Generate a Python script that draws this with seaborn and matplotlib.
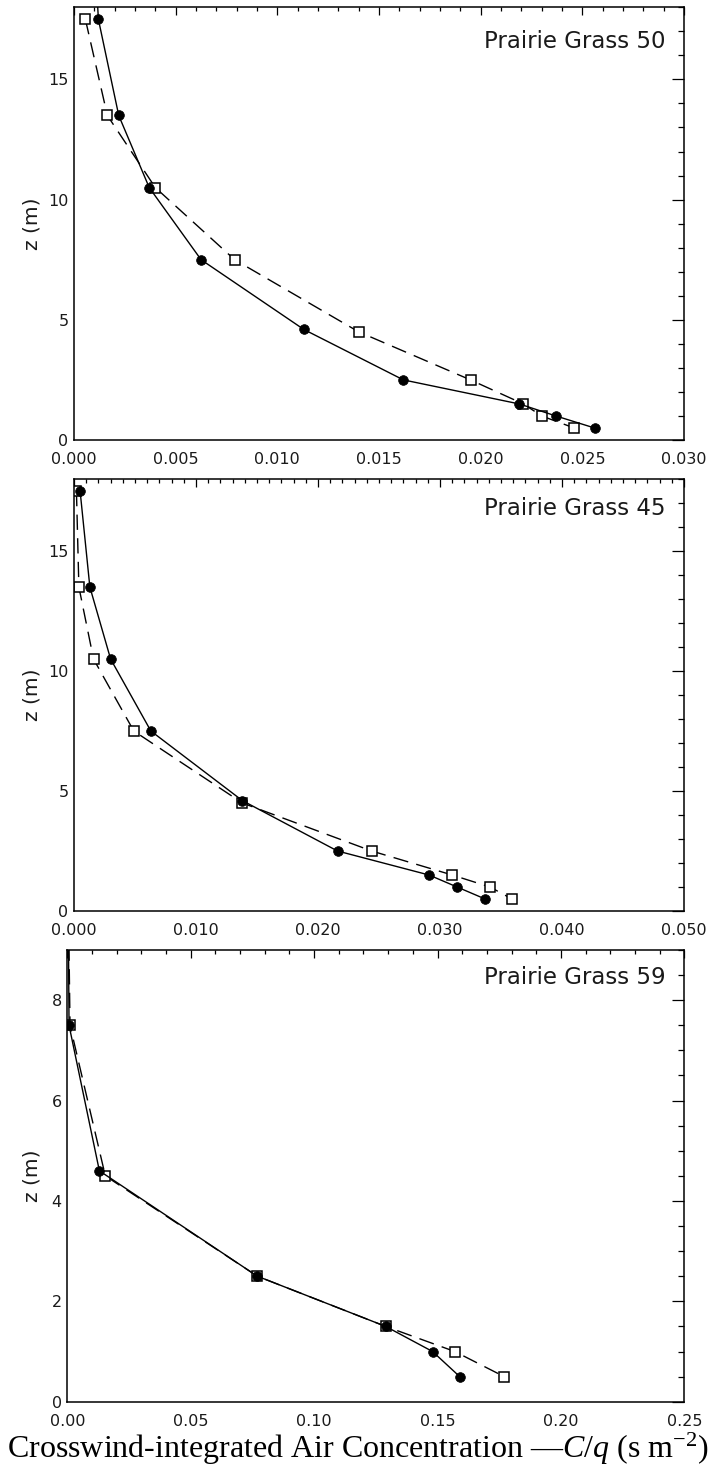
import numpy as np
import pandas as pd
import matplotlib
matplotlib.use("Agg")
import matplotlib.pyplot as plt
from matplotlib.ticker import MultipleLocator, FormatStrFormatter
import seaborn as sns

# ---------------------------------------------------------------------------
# data (x = C/q, z = height in m)
# ---------------------------------------------------------------------------
pg50_circ_x = [0.0010, 0.0012, 0.0022, 0.0037, 0.00625, 0.0113, 0.0162, 0.0219, 0.0237, 0.0256]
pg50_circ_z = [20.5, 17.5, 13.5, 10.5, 7.5, 4.6, 2.5, 1.5, 1.0, 0.5]
pg50_sq_x = [0.00056, 0.00164, 0.0040, 0.0079, 0.0140, 0.0195, 0.0221, 0.0230, 0.0246]
pg50_sq_z = [17.5, 13.5, 10.5, 7.5, 4.5, 2.5, 1.5, 1.0, 0.5]

pg45_circ_x = [0.0005, 0.0013, 0.0030, 0.0063, 0.0138, 0.0216, 0.0291, 0.0314, 0.0337]
pg45_circ_z = [17.5, 13.5, 10.5, 7.5, 4.6, 2.5, 1.5, 1.0, 0.5]
pg45_sq_x = [0.0002, 0.0004, 0.0016, 0.0049, 0.0138, 0.0244, 0.0310, 0.0341, 0.0359]
pg45_sq_z = [17.5, 13.5, 10.5, 7.5, 4.5, 2.5, 1.5, 1.0, 0.5]

pg59_circ_x = [0.0003, 0.0007, 0.0130, 0.0770, 0.1290, 0.1480, 0.1590]
pg59_circ_z = [10.5, 7.5, 4.6, 2.5, 1.5, 1.0, 0.5]
pg59_sq_x = [0.0003, 0.0011, 0.0154, 0.0770, 0.1290, 0.1570, 0.1770]
pg59_sq_z = [10.5, 7.5, 4.5, 2.5, 1.5, 1.0, 0.5]

titles = ["Prairie Grass 50", "Prairie Grass 45", "Prairie Grass 59"]
xlims = [(0, 0.030), (0, 0.050), (0, 0.25)]
ylims = [(0, 18), (0, 18), (0, 9)]
x_major = [0.005, 0.010, 0.05]
x_minor = [0.001, 0.001, 0.01]
y_major = [5, 5, 2]
y_minor = [1, 1, 0.5]
x_fmt = ["%.3f", "%.3f", "%.2f"]

# ---------------------------------------------------------------------------
sns.set_style("white")
plt.rcParams["font.family"] = ["DejaVu Sans"]
plt.rcParams["mathtext.fontset"] = "custom"
plt.rcParams["mathtext.rm"] = "Liberation Serif"
plt.rcParams["mathtext.it"] = "Liberation Serif:italic"

W, H = 711, 1468
fig = plt.figure(figsize=(W / 100, H / 100), dpi=100)

# axes boxes in pixels: left, top, right, bottom
boxes = [(74, 7.3, 684, 440), (74, 479, 684, 911), (67.3, 950, 684.3, 1401.7)]
title_drop = [34, 29.5, 28]

series = [
    (pg50_circ_x, pg50_circ_z, pg50_sq_x, pg50_sq_z),
    (pg45_circ_x, pg45_circ_z, pg45_sq_x, pg45_sq_z),
    (pg59_circ_x, pg59_circ_z, pg59_sq_x, pg59_sq_z),
]

for i, (cx, cz, sx, sz) in enumerate(series):
    l, t, r, b = boxes[i]
    ax = fig.add_axes([l / W, 1 - b / H, (r - l) / W, (b - t) / H])

    # model (dashed, open squares) then observed (solid, filled circles)
    sns.lineplot(x=sx, y=sz, sort=False, estimator=None, ax=ax, color="black",
                 lw=1.0, linestyle=(0, (11, 6)), marker="s", markersize=6.5,
                 markerfacecolor="white", markeredgecolor="black",
                 markeredgewidth=1.1)
    sns.lineplot(x=cx, y=cz, sort=False, estimator=None, ax=ax, color="black",
                 lw=1.0, marker="o", markersize=7,
                 markerfacecolor="black", markeredgecolor="black",
                 markeredgewidth=0.5)

    ax.set_xlim(*xlims[i])
    ax.set_ylim(*ylims[i])
    ax.xaxis.set_major_locator(MultipleLocator(x_major[i]))
    ax.xaxis.set_minor_locator(MultipleLocator(x_minor[i]))
    ax.yaxis.set_major_locator(MultipleLocator(y_major[i]))
    ax.yaxis.set_minor_locator(MultipleLocator(y_minor[i]))
    ax.xaxis.set_major_formatter(FormatStrFormatter(x_fmt[i]))

    ax.tick_params(which="both", direction="in", top=True, right=True,
                   color="black", labelcolor="#1a1a1a", labelsize=11.5)
    ax.tick_params(axis="y", which="major", length=8.5, width=0.9, pad=4)
    ax.tick_params(axis="y", which="minor", length=4.3, width=0.9)
    ax.tick_params(axis="x", which="major", length=6, width=0.9, pad=8.5)
    ax.tick_params(axis="x", which="minor", length=3, width=0.9)
    for sp in ax.spines.values():
        sp.set_color("black")
        sp.set_linewidth(1.1)

    ax.set_xlabel("")
    ax.set_ylabel("z (m)", fontsize=14.5, color="#1a1a1a")
    ax.yaxis.set_label_coords((42 - l) / (r - l), 0.5)

    ax.text(0.969, 1 - title_drop[i] / (b - t), titles[i], transform=ax.transAxes,
            ha="right", va="center", fontsize=16.5, color="#1a1a1a")

fig.text(358 / W, 1 - 1458 / H,
         "Crosswind-integrated Air Concentration \u2014$C/q$ (s m$^{-2}$)",
         ha="center", va="baseline", fontsize=23, family="Liberation Serif",
         color="black")

fig.savefig("out.png", dpi=100)
